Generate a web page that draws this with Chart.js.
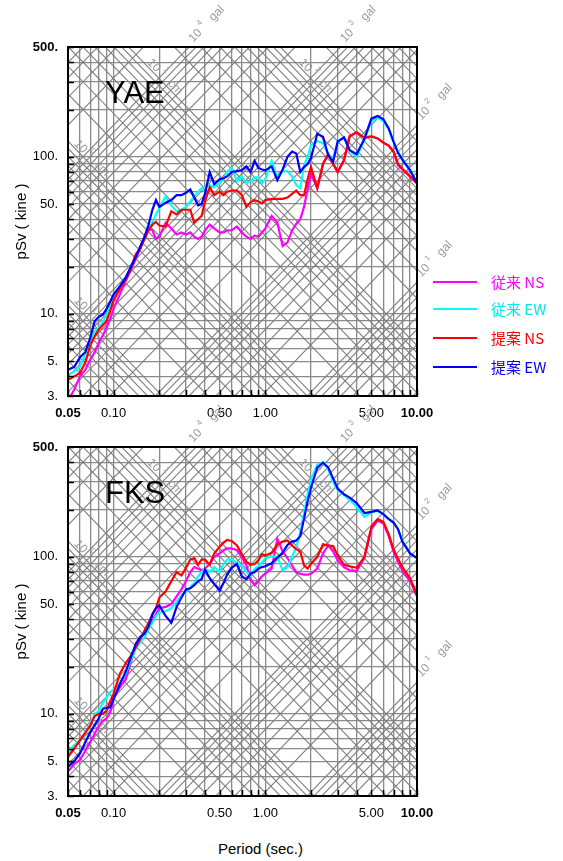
<!DOCTYPE html>
<html>
<head>
<meta charset="utf-8">
<script src="https://cdn.jsdelivr.net/npm/chart.js@4.4.1/dist/chart.umd.min.js"></script>
<style>
body { margin: 0; background: #fff; width: 563px; height: 861px; position: relative; overflow: hidden; font-family: 'Liberation Sans', Arial, sans-serif; }
.panel { position: absolute; left: 0; width: 563px; height: 430px; }
#topPanel { top: 0; }
#botPanel { top: 400px; }
#xtitle { position: absolute; left: 218px; top: 840px; font-size: 15px; color: #000; }
.legLine { position: absolute; left: 433px; width: 44px; height: 2px; }
.legText { position: absolute; left: 491px; font-size: 15px; line-height: 20px; font-family: 'Noto Sans CJK JP', 'Liberation Sans', sans-serif; }
</style>
</head>
<body>
<div class="panel" id="topPanel"><canvas id="yaeChart"></canvas></div>
<div class="panel" id="botPanel"><canvas id="fksChart"></canvas></div>
<div id="xtitle">Period (sec.)</div>

<div class="legLine" style="top:281px;background:#ff00ff"></div>
<div class="legText" style="top:272px;color:#ff00ff">従来 NS</div>
<div class="legLine" style="top:308px;background:#00ffff"></div>
<div class="legText" style="top:299px;color:#00e8e8">従来 EW</div>
<div class="legLine" style="top:337px;background:#ff0000"></div>
<div class="legText" style="top:328px;color:#ff0000">提案 NS</div>
<div class="legLine" style="top:366px;background:#0000ff"></div>
<div class="legText" style="top:357px;color:#0000ff">提案 EW</div>

<script>
const FONT = "'Liberation Sans', Arial, sans-serif"
const TWO_PI = 2 * Math.PI
const gridGrey = '#8a8a8a'
const diagGrey = '#7e7e7e'

// period (sec.) shared by every curve
const periods = [0.05, 0.055, 0.06, 0.065, 0.07, 0.075, 0.08, 0.085, 0.09, 0.095,
	0.10, 0.11, 0.12, 0.13, 0.14, 0.15, 0.16, 0.17, 0.18, 0.19, 0.20,
	0.22, 0.24, 0.26, 0.28, 0.30, 0.32, 0.34, 0.36, 0.38, 0.40,
	0.43, 0.46, 0.50, 0.53, 0.56, 0.60,
	0.65, 0.70, 0.75, 0.80, 0.85, 0.90, 0.95,
	1.0, 1.1, 1.2, 1.3, 1.4, 1.5, 1.6, 1.7, 1.8, 1.9, 2.0,
	2.2, 2.4, 2.6, 2.8, 3.0,
	3.3, 3.6, 4.0, 4.5,
	5.0, 5.5, 6.0, 6.5, 7.0, 7.5, 8.0,
	9.0, 10.0]

// YAE pSv (kine)
const yaeNsOld = [2.8, 3.3, 4.0, 4.4, 5.1, 5.7, 6.6, 7.3, 8.2, 9.3,
	10.8, 13.3, 16.2, 19, 22.5, 26, 31.6, 35, 34, 30, 31,
	38, 35, 32, 33, 32, 33, 31, 30, 31, 34,
	37, 35, 33, 33, 34, 34,
	36, 33, 31, 30, 31.5, 31, 33,
	35, 42, 38, 27, 28.5, 34, 37.5, 40, 48, 62, 78,
	63, 90, 104, 90, 80,
	95, 135, 143, 132,
	135, 131, 123, 118, 108, 88, 83,
	75, 68]
const yaeEwOld = [4.1, 4.3, 4.6, 5.6, 6.8, 7.7, 8.2, 8.9, 9.9, 11.2,
	12.7, 14.8, 17, 20, 23.5, 27, 31, 35, 38, 43, 47,
	56, 49, 45, 46, 48, 52, 56, 60, 63, 64,
	66, 64, 68, 72, 80, 85,
	70, 75, 68, 70, 74, 74, 68,
	72, 94, 74, 81, 81, 75, 66, 63, 88, 100, 118,
	126, 122, 104, 97, 125,
	132, 110, 100, 128,
	168, 178, 168, 150, 125, 107, 97,
	83, 68]
const yaeNsNew = [3.8, 4.0, 4.2, 4.9, 6.3, 7.2, 8.0, 8.5, 9.0, 10.5,
	12.2, 14.5, 16.5, 19.5, 24, 26, 30, 34, 37, 38.5, 36.5,
	36, 45, 43, 46, 46, 46, 38, 40, 42, 52,
	64, 57, 60, 57, 60, 61,
	61, 57, 48, 51.5, 53, 52, 50.5,
	53, 54, 54, 54, 55, 58, 61, 57, 57, 72, 86,
	63, 90, 104, 90, 80,
	95, 135, 143, 132,
	135, 131, 123, 118, 108, 90, 84,
	75, 68]
const yaeEwNew = [4.4, 4.6, 5.3, 5.7, 7.0, 9.0, 9.6, 9.9, 10.8, 12,
	13.3, 15, 17, 20, 23, 27, 31, 37, 46, 53, 48,
	51, 53, 57, 57, 59, 62, 55, 49, 50, 58,
	80, 67, 72, 73, 75, 80,
	81, 82, 87, 80, 94, 85, 83,
	82, 87, 71, 83, 100, 108, 105, 80, 86, 90, 98,
	140, 134, 102, 93, 125,
	133, 110, 104, 130,
	175, 182, 173, 152, 125, 106, 96,
	82, 68]

// FKS pSv (kine)
const fksNsOld = [4.3, 4.8, 5.1, 5.8, 6.6, 7.5, 8.4, 9.0, 9.4, 10.2,
	12.5, 14.8, 16.5, 21.5, 27, 30.5, 33, 35, 40, 43, 47,
	48, 50, 56, 62, 70, 80, 86, 84, 82, 84,
	90, 100, 105, 110, 113, 113,
	110, 100, 88, 72, 66, 70, 75,
	78, 84, 130, 108, 98, 88, 80, 78, 77, 77, 78,
	84, 105, 118, 108, 95,
	86, 82, 81, 98,
	150, 170, 163, 136, 108, 93, 82,
	70, 56]
const fksEwOld = [5.8, 6.3, 6.8, 7.5, 8.6, 9.9, 10.5, 11.8, 12.8, 13.8,
	14.2, 15.8, 18, 22, 26, 28.5, 31, 35, 38, 42, 44,
	45, 47, 52, 57, 60, 64, 68, 75, 80, 84,
	80, 86, 80, 90, 96, 96,
	92, 88, 80, 76, 84, 87, 92,
	98, 101, 100, 82, 86, 100, 115, 144, 190, 250, 310,
	385, 400, 360, 300, 265,
	248, 230, 208, 180,
	192, 196, 187, 174, 165, 150, 128,
	105, 98]
const fksNsNew = [5.3, 6.0, 6.8, 7.6, 8.4, 9.7, 10, 10, 10.5, 12,
	13.5, 18, 21, 23.5, 26.5, 30, 34, 38, 43, 47, 55,
	60, 70, 80, 76, 85, 96, 98, 89, 96, 96,
	89, 105, 116, 123, 128, 126,
	118, 104, 93, 89, 90, 95, 104,
	102, 106, 120, 125, 127, 118, 112, 108, 88, 84, 90,
	100, 120, 118, 117, 102,
	89, 87, 85, 100,
	155, 174, 167, 140, 112, 97, 86,
	73, 57]
const fksEwNew = [4.6, 5.0, 5.6, 6.6, 7.6, 8.5, 9.4, 10.8, 10.9, 11,
	12.5, 15.5, 18.5, 23, 28, 31, 32.5, 36, 43, 47, 49,
	42, 38, 48, 55, 62, 63, 66, 70, 72, 83,
	73, 67, 61, 68, 77, 85,
	90, 75, 72, 78, 80, 84, 86,
	87, 91, 99, 106, 119, 125, 127, 135, 175, 225, 275,
	370, 397, 370, 315, 272,
	250, 238, 220, 190,
	193, 197, 187, 174, 165, 150, 125,
	105, 98]

// axes
const xTicks = [0.05, 0.06, 0.07, 0.08, 0.09, 0.1, 0.2, 0.3, 0.4, 0.5, 0.6, 0.7, 0.8, 0.9, 1, 2, 3, 4, 5, 6, 7, 8, 9, 10]
const yTicks = [3, 4, 5, 6, 7, 8, 9, 10, 20, 30, 40, 50, 60, 70, 80, 90, 100, 200, 300, 400, 500]
const xLabels = [[0.05, '0.05'], [0.1, '0.10'], [0.5, '0.50'], [1, '1.00'], [5, '5.00'], [10, '10.00']]
const yLabels = [[3, '3.'], [5, '5.'], [10, '10.'], [50, '50.'], [100, '100.'], [500, '500.']]
const xBold = [0.05, 10]
const yBold = [500]

// tripartite guide lines: acceleration (gal) and displacement (cm)
const accelLines = []
for (let e = 0; e <= 4; e++) for (let m = 1; m <= 9; m++) accelLines.push(m * Math.pow(10, e))
const dispLines = []
for (let e = -2; e <= 2; e++) for (let m = 1; m <= 9; m++) dispLines.push(m * Math.pow(10, e))
const accelLabels = [[10, '1'], [100, '2'], [1000, '3'], [10000, '4']]
const dispLabels = [[0.1, '-1'], [1, '0'], [10, '1'], [100, '2']]

function findLabel(list, v) {
	const hit = list.find(p => Math.abs(p[0] - v) < 1e-9)
	return hit ? hit[1] : ''
}

function powerLabel(ctx, px, py, angle, exp, unit) {
	ctx.save()
	ctx.translate(px, py)
	ctx.rotate(angle)
	ctx.fillStyle = '#9a9a9a'
	ctx.textAlign = 'left'
	ctx.textBaseline = 'alphabetic'
	ctx.font = '12px ' + FONT
	ctx.fillText('10', 0, 0)
	const w = ctx.measureText('10').width
	ctx.font = '8px ' + FONT
	ctx.fillText(exp, w + 3, -7)
	ctx.font = '12px ' + FONT
	ctx.fillText(unit, w + 16, 0)
	ctx.restore()
}

const tripartite = {
	id: 'tripartite',
	beforeDatasetsDraw(chart) {
		const { ctx, chartArea: a, scales: { x, y } } = chart
		const tA = x.min, tB = x.max
		ctx.save()
		ctx.beginPath()
		ctx.rect(a.left, a.top, a.right - a.left, a.bottom - a.top)
		ctx.clip()
		ctx.strokeStyle = diagGrey
		ctx.lineWidth = 1.1
		accelLines.forEach(sa => {
			ctx.beginPath()
			ctx.moveTo(x.getPixelForValue(tA), y.getPixelForValue(sa * tA / TWO_PI))
			ctx.lineTo(x.getPixelForValue(tB), y.getPixelForValue(sa * tB / TWO_PI))
			ctx.stroke()
		})
		dispLines.forEach(sd => {
			ctx.beginPath()
			ctx.moveTo(x.getPixelForValue(tA), y.getPixelForValue(TWO_PI * sd / tA))
			ctx.lineTo(x.getPixelForValue(tB), y.getPixelForValue(TWO_PI * sd / tB))
			ctx.stroke()
		})
		ctx.restore()

		// unit directions of the two diagonal families in pixels
		const dx = x.getPixelForValue(10) - x.getPixelForValue(1)
		const dy = y.getPixelForValue(10) - y.getPixelForValue(1)
		const len = Math.hypot(dx, dy)
		const uA = [dx / len, dy / len]      // up-right
		const uD = [dx / len, -dy / len]     // down-right

		accelLabels.forEach(([sa, exp]) => {
			const tTop = y.max * TWO_PI / sa
			let px, py
			if (tTop <= x.max) { px = x.getPixelForValue(tTop); py = a.top }
			else { px = a.right; py = y.getPixelForValue(sa * x.max / TWO_PI) }
			powerLabel(ctx, px + uA[0] * 6, py + uA[1] * 6, Math.atan2(uA[1], uA[0]), exp, 'gal')
		})
		dispLabels.forEach(([sd, exp]) => {
			const tTop = TWO_PI * sd / y.max
			let px, py, d
			if (tTop >= x.min) { px = x.getPixelForValue(tTop); py = a.top; d = 24 }
			else { px = a.left; py = y.getPixelForValue(TWO_PI * sd / x.min); d = 6 }
			powerLabel(ctx, px + uD[0] * d + uD[1] * 2, py + uD[1] * d - uD[0] * 2, Math.atan2(uD[1], uD[0]), exp, 'cm')
		})
	},
	afterDatasetsDraw(chart, args, opts) {
		const { ctx, chartArea: a, scales: { x, y } } = chart
		ctx.save()
		ctx.strokeStyle = '#000'
		ctx.lineWidth = 1.5
		xTicks.forEach(v => {
			const px = Math.round(x.getPixelForValue(v)) + 0.5
			ctx.beginPath(); ctx.moveTo(px, a.bottom); ctx.lineTo(px, a.bottom - 6); ctx.stroke()
		})
		yTicks.forEach(v => {
			const py = Math.round(y.getPixelForValue(v)) + 0.5
			ctx.beginPath(); ctx.moveTo(a.left, py); ctx.lineTo(a.left + 6, py); ctx.stroke()
		})
		ctx.lineWidth = 2
		ctx.strokeRect(a.left, a.top, a.right - a.left, a.bottom - a.top)
		ctx.fillStyle = '#000'
		ctx.font = '31px ' + FONT
		ctx.textBaseline = 'alphabetic'
		ctx.fillText(opts.station, a.left + 37, a.top + 56)
		ctx.restore()
	}
}

function series(label, values, color, order) {
	return {
		label,
		data: periods.map((t, i) => ({ x: t, y: values[i] })),
		borderColor: color,
		backgroundColor: color,
		borderWidth: 2.2,
		pointRadius: 0,
		tension: 0,
		order
	}
}

function makePanel(id, station, ns0, ew0, ns1, ew1) {
	return new Chart(id, {
		type: 'line',
		data: {
			datasets: [
				series('従来 NS', ns0, '#ff00ff', 4),
				series('従来 EW', ew0, '#00ffff', 3),
				series('提案 NS', ns1, '#ff0000', 2),
				series('提案 EW', ew1, '#0000ff', 1)
			]
		},
		options: {
			responsive: true,
			maintainAspectRatio: false,
			animation: false,
			layout: { padding: { top: 47, right: 146, bottom: 10, left: 0 } },
			plugins: {
				legend: { display: false },
				tooltip: { enabled: false },
				tripartite: { station }
			},
			scales: {
				x: {
					type: 'logarithmic',
					min: 0.05,
					max: 10,
					afterBuildTicks: s => { s.ticks = xTicks.map(v => ({ value: v })) },
					afterFit: s => { s.height = 24 },
					grid: { color: gridGrey, lineWidth: 1.3, drawTicks: false },
					border: { display: false },
					ticks: {
						autoSkip: false,
						maxRotation: 0,
						padding: 10,
						color: '#000',
						font: c => ({ family: FONT, size: 13, weight: xBold.includes(c.tick && c.tick.value) ? 'bold' : 'normal' }),
						callback: v => findLabel(xLabels, v)
					}
				},
				y: {
					type: 'logarithmic',
					min: 3,
					max: 500,
					afterBuildTicks: s => { s.ticks = yTicks.map(v => ({ value: v })) },
					afterFit: s => { s.width = 68 },
					grid: { color: gridGrey, lineWidth: 1.3, drawTicks: false },
					border: { display: false },
					title: {
						display: true,
						text: 'pSv ( kine )',
						color: '#000',
						font: { family: FONT, size: 15 },
						padding: { top: 13, bottom: 0 }
					},
					ticks: {
						autoSkip: false,
						padding: 10,
						color: '#000',
						font: c => ({ family: FONT, size: 13, weight: yBold.includes(c.tick && c.tick.value) ? 'bold' : 'normal' }),
						callback: v => findLabel(yLabels, v)
					}
				}
			}
		},
		plugins: [tripartite]
	})
}

makePanel('yaeChart', 'YAE', yaeNsOld, yaeEwOld, yaeNsNew, yaeEwNew)
makePanel('fksChart', 'FKS', fksNsOld, fksEwOld, fksNsNew, fksEwNew)
</script>
</body>
</html>
